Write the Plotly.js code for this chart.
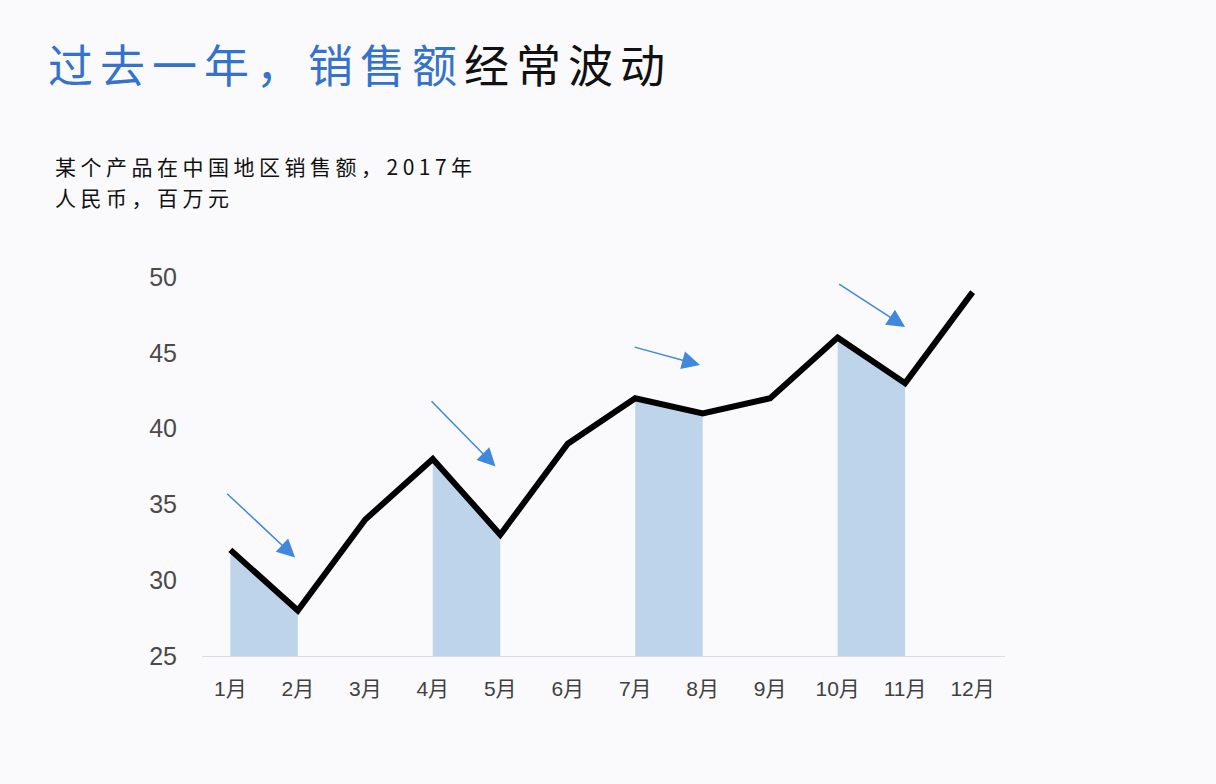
<!DOCTYPE html>
<html>
<head>
<meta charset="utf-8">
<script src="https://cdn.plot.ly/plotly-3.0.1.min.js"></script>
<style>
html, body { margin: 0; padding: 0; background: #fafafc; }
#chart { width: 1216px; height: 784px; }
.gtitle { letter-spacing: 7px; }
.annotation-text { letter-spacing: 4.5px; }
</style>
</head>
<body>
<div id="chart"></div>
<script>
// Data
const months = ['1月','2月','3月','4月','5月','6月','7月','8月','9月','10月','11月','12月'];
const sales = [32, 28, 34, 38, 33, 39, 42, 41, 42, 46, 43, 49];
const dropStarts = [0, 3, 6, 9];
const yTicks = [25, 30, 35, 40, 45, 50];

const traces = [];
dropStarts.forEach(function (i) {
  traces.push({
    type: 'scatter',
    x: [months[i], months[i + 1]],
    y: [sales[i], sales[i + 1]],
    mode: 'none',
    fill: 'tozeroy',
    fillcolor: '#bdd4ea',
    hoverinfo: 'skip',
    showlegend: false
  });
});
traces.push({
  type: 'scatter',
  x: months,
  y: sales,
  mode: 'lines',
  line: { color: '#000000', width: 6 },
  showlegend: false
});

// arrow annotations (tail -> head), placed near each drop
const arrowSpecs = [
  { hx: 0.96, hy: 31.5, tx: -0.07, ty: 35.8 },
  { hx: 3.93, hy: 37.5, tx: 2.96, ty: 41.9 },
  { hx: 6.96, hy: 44.2, tx: 5.97, ty: 45.4 },
  { hx: 10.0, hy: 46.7, tx: 9.0, ty: 49.6 }
];
const annotations = arrowSpecs.map(function (a) {
  return {
    x: a.hx, y: a.hy, xref: 'x', yref: 'y',
    ax: a.tx, ay: a.ty, axref: 'x', ayref: 'y',
    showarrow: true, arrowhead: 2, arrowsize: 2.4, arrowwidth: 1.5,
    arrowcolor: '#3f88dc', text: ''
  };
});
annotations.push({
  text: '某个产品在中国地区销售额，2017年',
  xref: 'paper', yref: 'paper', x: -0.1856, y: 1.293,
  xanchor: 'left', yanchor: 'middle', showarrow: false, align: 'left',
  font: { family: 'Noto Sans CJK SC', size: 21, color: '#111111' }
});
annotations.push({
  text: '人民币，百万元',
  xref: 'paper', yref: 'paper', x: -0.1856, y: 1.211,
  xanchor: 'left', yanchor: 'middle', showarrow: false, align: 'left',
  font: { family: 'Noto Sans CJK SC', size: 21, color: '#111111' }
});

const layout = {
  width: 1216, height: 784,
  margin: { l: 202, r: 211, t: 277, b: 128 },
  paper_bgcolor: '#fafafc',
  plot_bgcolor: '#fafafc',
  title: {
    text: '<span style="color:#3572cc">过去一年，销售额</span>经常波动',
    xref: 'container', yref: 'container',
    x: 48 / 1216, y: 1 - 67 / 784, xanchor: 'left', yanchor: 'middle',
    font: { family: 'Noto Sans CJK SC', size: 45, color: '#111111' }
  },
  xaxis: {
    type: 'category',
    categoryorder: 'array',
    categoryarray: months,
    range: [-0.42, 11.48],
    showgrid: false, zeroline: false,
    showline: true, linecolor: '#dcdce2', linewidth: 1,
    ticks: '',
    ticklabelstandoff: 14,
    tickfont: { family: 'Liberation Sans, Noto Sans CJK SC', size: 21, color: '#404040' }
  },
  yaxis: {
    range: [25, 50],
    tickvals: yTicks,
    showgrid: false, zeroline: false, showline: false,
    ticks: '',
    ticklabelstandoff: 24,
    tickfont: { family: 'Liberation Sans, Arial', size: 25, color: '#4a4a4a' }
  },
  annotations: annotations,
  showlegend: false
};

Plotly.newPlot('chart', traces, layout, { displayModeBar: false, staticPlot: true });
</script>
</body>
</html>
